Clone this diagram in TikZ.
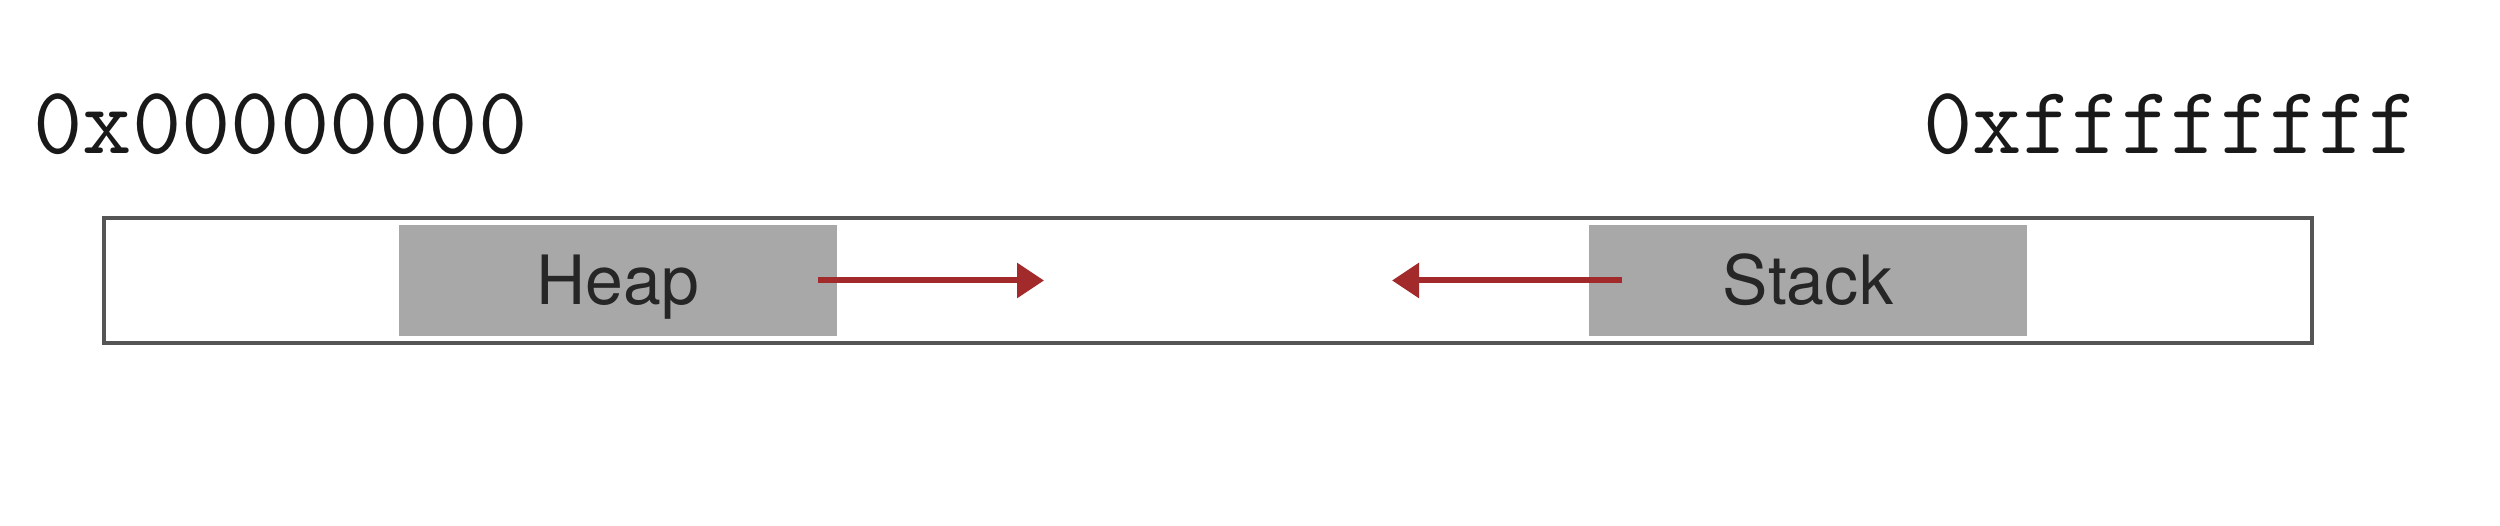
\documentclass[tikz,border=0pt]{standalone}
\usepackage{fontspec}
\setmainfont{TeX Gyre Heros}
\usetikzlibrary{arrows.meta}
\definecolor{memred}{HTML}{A32A2A}
\definecolor{boxgray}{HTML}{A8A8A8}
\definecolor{framegray}{HTML}{555555}
\begin{document}
\begin{tikzpicture}[x=1pt,y=1pt,
  frame/.style={draw=framegray,line width=4pt,fill=white,inner sep=0pt,minimum width=2208pt,minimum height=125pt},
  region/.style={fill=boxgray,draw=none,inner sep=0pt,minimum width=438pt,minimum height=111pt,text height=49pt,text depth=0pt,font=\fontsize{68}{80}\selectfont,text=black!85},
  addr/.style={font=\ttfamily\fontsize{96}{104}\selectfont,inner sep=0pt,text=black!90},
  growarrow/.style={draw=memred,line width=6pt,-{Triangle[length=27pt,width=34pt]}}]
\useasboundingbox (0,0) rectangle (2500,526);
\node[frame] (mem) at (1208,245.5) {};
\node[region] (heap) at (618,245.5) {Heap};
\node[region] (stack) at (1808,245.5) {Stack};
\node[addr,anchor=west] (lo) at (33,402) {0x00000000};
\node[addr,anchor=east] (hi) at (2418,402) {0xffffffff};
\coordinate (hend) at (1044,245.5);
\coordinate (send) at (1392,245.5);
\draw[growarrow] ([xshift=-19pt]heap.east) -- (hend);
\draw[growarrow] ([xshift=33pt]stack.west) -- (send);
\end{tikzpicture}
\end{document}
